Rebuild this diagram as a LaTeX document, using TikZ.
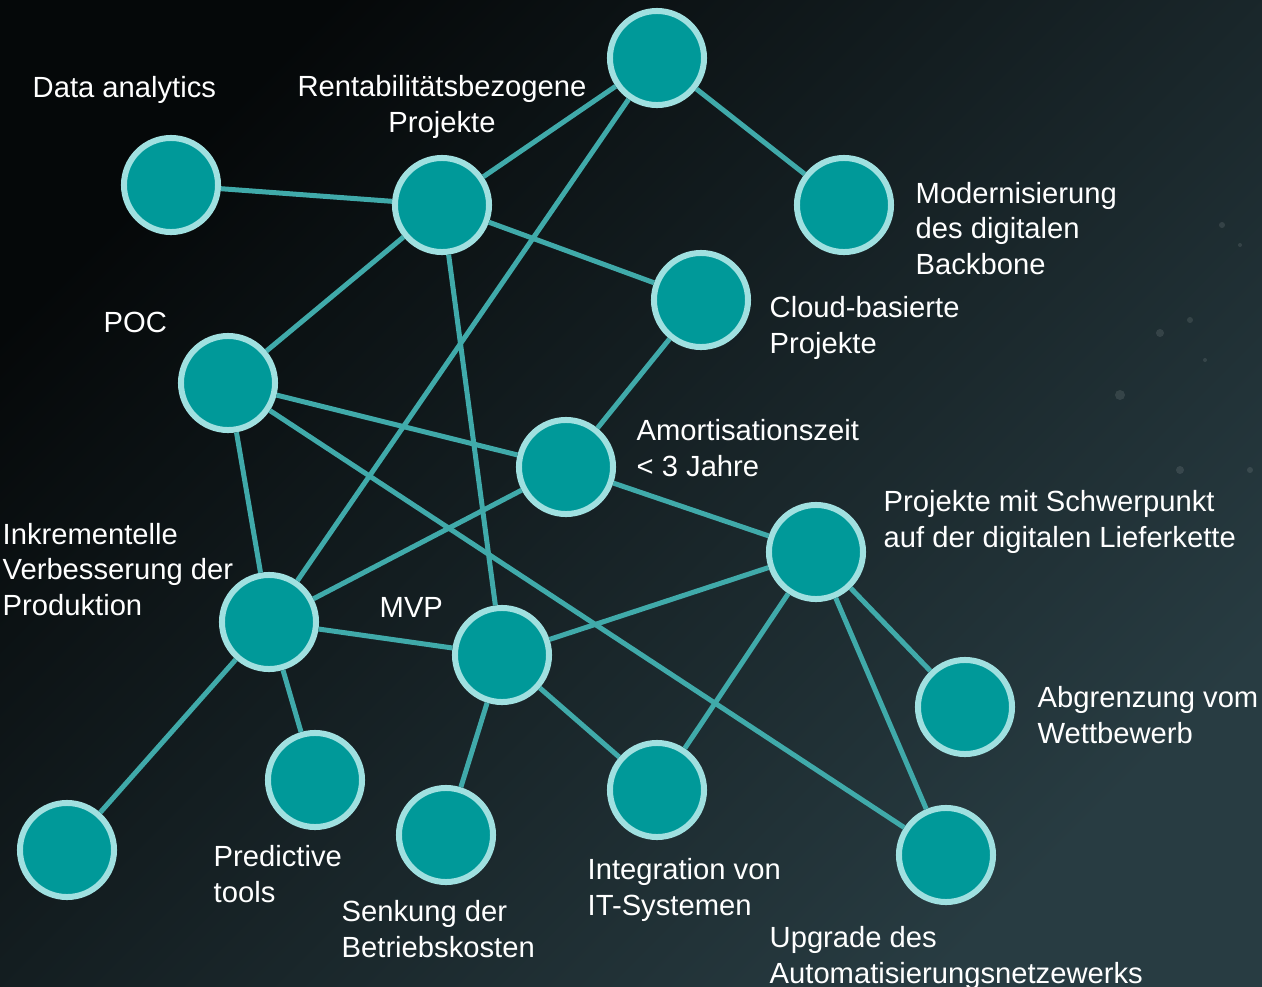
\documentclass[tikz,border=0pt]{standalone}
\usepackage{fontspec}
\setmainfont{Liberation Sans}
\usepackage{tikz}
\usetikzlibrary{positioning}

\definecolor{bgdark}{RGB}{5,8,9}
\definecolor{bglight}{RGB}{40,60,66}
\definecolor{hubfill}{RGB}{0,153,153}
\definecolor{hubring}{RGB}{160,224,224}
\definecolor{linkcol}{RGB}{64,170,170}

\begin{document}
\begin{tikzpicture}[x=0.01cm,y=-0.01cm,
		hub/.style={circle,minimum size=0.94cm,inner sep=0pt,fill=hubfill,draw=hubring,line width=0.06cm},
		lbl/.style={text=white,inner sep=0pt,anchor=base west,align=left,font=\fontsize{8.3pt}{9.96pt}\selectfont},
		link/.style={draw=linkcol,line width=0.05cm}]
		
		% background
		\useasboundingbox (0,0) rectangle (1262,987);
		\shade[top color=bgdark,bottom color=bglight,shading angle=45] (0,0) rectangle (1262,987);
		\foreach \bx/\by/\br in {1222/225/3,1240/245/2,1190/320/3,1160/333/4,1205/360/2,1120/395/5,1250/470/3,1180/470/4}
			\fill[white,opacity=0.1] (\bx,\by) circle[radius=\br];
		
		% circles
		\node[hub] (top) at (657,58) {};
		\node[hub] (da) at (171,185) {};
		\node[hub] (rp) at (442,205) {};
		\node[hub] (md) at (844,205) {};
		\node[hub] (cb) at (701,300) {};
		\node[hub] (poc) at (228,383) {};
		\node[hub] (am) at (566,467) {};
		\node[hub] (sc) at (816,552) {};
		\node[hub] (ink) at (269,622) {};
		\node[hub] (mvp) at (502,655) {};
		\node[hub] (ab) at (965,707) {};
		\node[hub] (pt) at (315,780) {};
		\node[hub] (bl) at (67,850) {};
		\node[hub] (sb) at (446,835) {};
		\node[hub] (it) at (657,790) {};
		\node[hub] (up) at (946,855) {};
		
		% connections
		\draw[link] (top)--(rp);
		\draw[link] (top)--(md);
		\draw[link] (top)--(ink);
		\draw[link] (da)--(rp);
		\draw[link] (rp)--(cb);
		\draw[link] (rp)--(poc);
		\draw[link] (rp)--(mvp);
		\draw[link] (cb)--(am);
		\draw[link] (poc)--(am);
		\draw[link] (am)--(sc);
		\draw[link] (poc)--(ink);
		\draw[link] (poc)--(up);
		\draw[link] (am)--(ink);
		\draw[link] (ink)--(mvp);
		\draw[link] (mvp)--(sc);
		\draw[link] (ink)--(pt);
		\draw[link] (ink)--(bl);
		\draw[link] (mvp)--(sb);
		\draw[link] (mvp)--(it);
		\draw[link] (sc)--(it);
		\draw[link] (sc)--(ab);
		\draw[link] (sc)--(up);
		
		% labels (anchored on the baseline of the last line)
		\node[lbl] (lda) at (32,97) {Data analytics};
		\node[lbl,anchor=base,align=center] (lrp) at (442,132) {Rentabilitätsbezogene\\Projekte};
		\node[lbl] (lmd) at (915,274) {Modernisierung\\des digitalen\\Backbone};
		\node[lbl] (lcb) at (769,353) {Cloud-basierte\\Projekte};
		\node[lbl] (lpoc) at (103,332) {POC};
		\node[lbl] (lam) at (636,476) {Amortisationszeit\\< 3 Jahre};
		\node[lbl] (lsc) at (883,547) {Projekte mit Schwerpunkt\\auf der digitalen Lieferkette};
		\node[lbl] (link) at (2,615) {Inkrementelle\\Verbesserung der\\Produktion};
		\node[lbl] (lmvp) at (379,617) {MVP};
		\node[lbl] (lab) at (1037,743) {Abgrenzung vom\\Wettbewerb};
		\node[lbl] (lpt) at (213,902) {Predictive\\tools};
		\node[lbl] (lsb) at (341,957) {Senkung der\\Betriebskosten};
		\node[lbl] (lit) at (587,915) {Integration von\\IT-Systemen};
		\node[lbl] (lup) at (769,983) {Upgrade des\\Automatisierungsnetzewerks};
\end{tikzpicture}
\end{document}
